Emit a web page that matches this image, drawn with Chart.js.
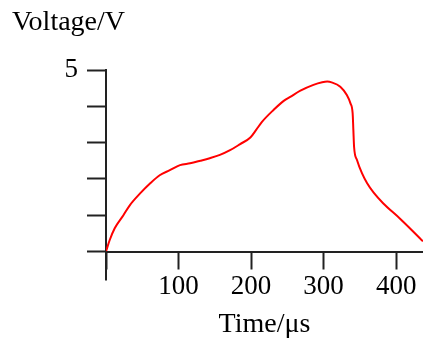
<!DOCTYPE html>
<html>
<head>
<meta charset="utf-8">
<script src="https://cdn.jsdelivr.net/npm/chart.js@4.4.1/dist/chart.umd.min.js"></script>
<style>
  html, body { margin: 0; padding: 0; background: #fff; }
  canvas { display: block; }
</style>
</head>
<body>
<canvas id="voltageChart" width="423" height="341"></canvas>
<script>
// time in microseconds, voltage in volts
const times = [0, 5, 12, 24, 33, 47, 61, 74, 88, 102, 116, 130, 143, 157, 171, 185, 199, 207, 215, 231, 245, 254, 268, 286, 298, 305, 311, 323, 332, 337, 340, 341, 342, 346, 353, 360, 369, 382, 405, 422, 437];
const volts = [0, 0.31, 0.64, 1.0, 1.28, 1.6, 1.88, 2.1, 2.24, 2.38, 2.43, 2.5, 2.57, 2.66, 2.79, 2.96, 3.14, 3.35, 3.57, 3.9, 4.15, 4.26, 4.43, 4.59, 4.66, 4.68, 4.66, 4.54, 4.31, 4.08, 3.81, 3.35, 2.88, 2.52, 2.15, 1.88, 1.62, 1.33, 0.91, 0.58, 0.28];
const xTickLabels = [100, 200, 300, 400];
const yTickLabels = [5];

const axisColor = '#222';

Chart.defaults.font.family = 'Liberation Serif';
Chart.defaults.font.size = 27;
Chart.defaults.color = '#000';

// the y axis runs on a little below the time axis
const axisTail = {
    id: 'axisTail',
    afterDraw(chart) {
        const ctx = chart.ctx;
        const x = chart.scales.x.getPixelForValue(0);
        const y = chart.chartArea.bottom;
        ctx.save();
        ctx.strokeStyle = axisColor;
        ctx.lineWidth = 2;
        ctx.beginPath();
        ctx.moveTo(x, y);
        ctx.lineTo(x, y + 29);
        ctx.stroke();
        ctx.restore();
    }
};

const ctx = document.getElementById('voltageChart').getContext('2d');
new Chart(ctx, {
    type: 'line',
    data: {
        datasets: [{
            data: times.map((t, i) => ({ x: t, y: volts[i] })),
            borderColor: '#ff0000',
            borderWidth: 2,
            pointRadius: 0,
            cubicInterpolationMode: 'monotone',
            fill: false
        }]
    },
    options: {
        responsive: false,
        animation: false,
        devicePixelRatio: 1,
        layout: { padding: { left: 12, right: 0, top: 0, bottom: 0 } },
        plugins: {
            legend: { display: false },
            tooltip: { enabled: false },
            title: {
                display: true,
                text: 'Voltage/V',
                align: 'start',
                color: '#000',
                font: { size: 28, weight: 'normal' },
                padding: { top: 5.5, bottom: 30.9 }
            }
        },
        scales: {
            x: {
                type: 'linear',
                min: 0,
                max: 437,
                afterFit: scale => { scale.height = 89.5; },
                border: { display: true, color: axisColor, width: 2 },
                grid: {
                    drawOnChartArea: false,
                    drawTicks: true,
                    tickLength: 18,
                    tickColor: axisColor,
                    tickWidth: 2
                },
                ticks: {
                    stepSize: 100,
                    includeBounds: false,
                    maxRotation: 0,
                    padding: 1,
                    callback: v => xTickLabels.includes(v) ? String(v) : ''
                },
                title: {
                    display: true,
                    text: 'Time/μs',
                    color: '#000',
                    font: { size: 28 },
                    padding: { top: 0, bottom: 0 }
                }
            },
            y: {
                min: 0,
                max: 5,
                afterFit: scale => { scale.width = 94; },
                border: { display: true, color: axisColor, width: 2 },
                grid: {
                    drawOnChartArea: false,
                    drawTicks: true,
                    tickLength: 19,
                    tickColor: axisColor,
                    tickWidth: 2
                },
                ticks: {
                    stepSize: 1,
                    padding: 9,
                    callback: v => yTickLabels.includes(v) ? String(v) : ''
                }
            }
        }
    },
    plugins: [axisTail]
});
</script>
</body>
</html>
